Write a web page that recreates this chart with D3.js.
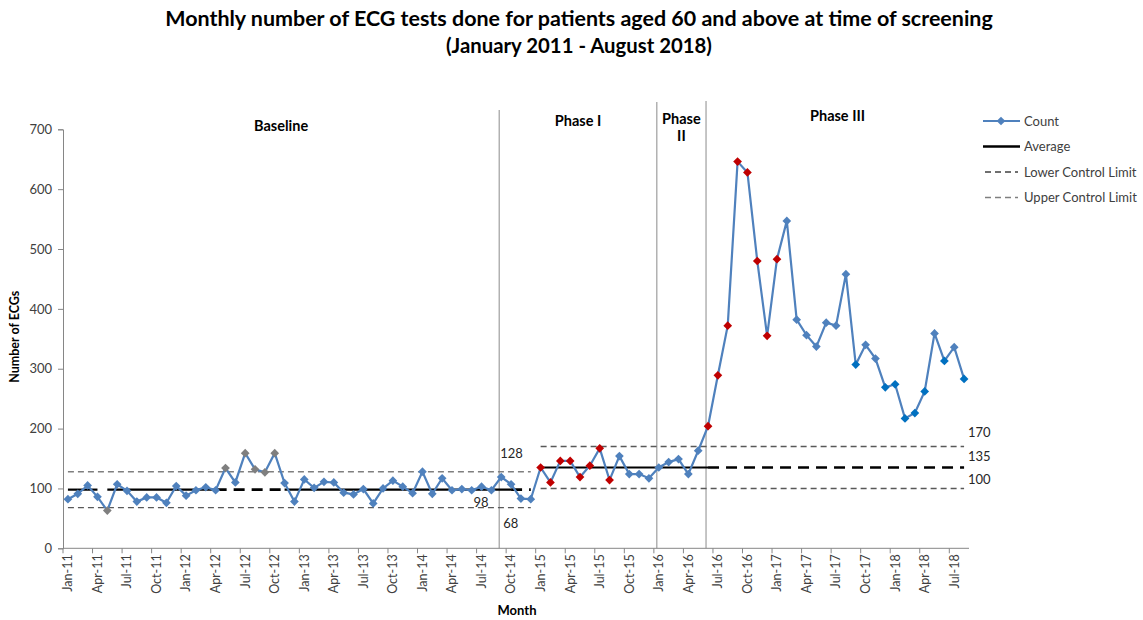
<!DOCTYPE html>
<html><head><meta charset="utf-8">
<script src="https://cdn.jsdelivr.net/npm/d3@7/dist/d3.min.js"></script>
<style>
body{margin:0;background:#fff;}
svg{display:block;font-family:Lato,"Open Sans",sans-serif;}
</style></head>
<body><svg id="c" width="1143" height="620"></svg>
<script>
// ---------- data ----------
const startMonth = new Date(2011, 0, 1);
const months = d3.timeMonths(startMonth, new Date(2018, 8, 1)).map(d3.timeFormat("%b-%y"));
const counts = [
  82, 91, 105, 86, 63, 107, 96, 78, 85, 85, 76, 104,      // 2011
  88, 97, 102, 97, 134, 110, 159, 132, 127, 159, 109, 78, // 2012
  115, 101, 111, 110, 93, 90, 99, 75, 100, 113, 103, 92,  // 2013
  128, 91, 117, 97, 99, 97, 103, 97, 119, 107, 83, 82,    // 2014
  135, 110, 146, 146, 119, 138, 167, 114, 154, 124, 124, 117, // 2015
  135, 144, 149, 124, 163, 204, 289, 372, 646, 628, 480, 355, // 2016
  483, 547, 382, 356, 337, 377, 372, 458, 307, 340, 317, 269, // 2017
  274, 217, 226, 262, 359, 313, 336, 283                      // 2018
];
const grayMonths = ["May-11", "May-12", "Jul-12", "Aug-12", "Sep-12", "Oct-12"];
const redMonths = ["Jan-15","Feb-15","Mar-15","Apr-15","May-15","Jun-15","Jul-15","Aug-15",
                   "Jun-16","Jul-16","Aug-16","Sep-16","Oct-16","Nov-16","Dec-16","Jan-17"];
const brightMonths = ["Sep-17","Dec-17","Jan-18","Feb-18","Mar-18","Apr-18","Jun-18","Aug-18"];
const tickMonths = months.filter((m, i) => i % 3 === 0);
const yTicks = [0, 100, 200, 300, 400, 500, 600, 700];

const baseAvg = 98, baseLCL = 68, baseUCL = 128;
const p1Avg = 135, p1LCL = 100, p1UCL = 170;
// average line pieces: [from, to, value, style]
const avgPieces = [
  ["Jan-11", "Apr-11", baseAvg, "solid"],
  ["May-11", "Apr-12", baseAvg, "solid"],
  ["Apr-12", "Nov-12", baseAvg, "dash"],
  ["Nov-12", "Oct-14", baseAvg, "solid"],
  ["Oct-14", "Dec-14", baseAvg, "dash"],
  ["Jan-15", "Jun-16", p1Avg, "solid"],
  ["Jun-16", "Aug-18", p1Avg, "dash"]
];
const limitPieces = [
  ["Jan-11", "Dec-14", baseUCL, "#7f7f7f"],
  ["Jan-11", "Dec-14", baseLCL, "#595959"],
  ["Jan-15", "Aug-18", p1UCL, "#595959"],
  ["Jan-15", "Aug-18", p1LCL, "#595959"]
];
const phaseBounds = [["Sep-14", 110], ["Jan-16", 102], ["Jun-16", 101]];
const phaseLabels = [
  {lines: ["Baseline"], y: 131},
  {lines: ["Phase I"], y: 126},
  {lines: ["Phase", "II"], y: 124},
  {lines: ["Phase III"], y: 121}
];
const legendItems = ["Count", "Average", "Lower Control Limit", "Upper Control Limit"];

// ---------- chart ----------
const svg = d3.select("#c");
const x = d3.scaleBand().domain(months).range([63, 969]);
const y = d3.scaleLinear().domain([0, 700]).range([548.3, 129.3]);
const cx = m => x(m) + x.bandwidth() / 2;

const blue = "#4F81BD", red = "#C00000", gray = "#7F7F7F", bright = "#0070C0";

// title
const titleLines = ["Monthly number of ECG tests done for patients aged 60 and above at time of screening",
                    "(January 2011 - August 2018)"];
const titleW = [828, 266];
titleLines.forEach((t, i) => {
  const el = svg.append("text").attr("x", 579).attr("y", 26 + i * 27)
    .attr("text-anchor", "middle").attr("font-weight", "bold").attr("font-size", 19)
    .attr("fill", "#000").text(t);
  const w = el.node().getComputedTextLength();
  el.attr("font-size", 19 * titleW[i] / w);
});

// phase boundary lines
phaseBounds.forEach(([m, top]) => {
  svg.append("line").attr("x1", cx(m) - 2).attr("x2", cx(m) - 2)
    .attr("y1", top).attr("y2", y(0)).attr("stroke", "#A6A6A6").attr("stroke-width", 1.3);
});

// phase labels
const bx = [63, cx("Sep-14") - 2, cx("Jan-16") - 2, cx("Jun-16") - 2, 969];
phaseLabels.forEach((p, i) => {
  const mid = (bx[i] + bx[i + 1]) / 2;
  p.lines.forEach((l, j) => {
    svg.append("text").attr("x", mid).attr("y", p.y + j * 17).attr("text-anchor", "middle")
      .attr("font-weight", "bold").attr("font-size", 14.5).attr("fill", "#000").text(l);
  });
});

// axes
const yAxis = svg.append("g").attr("transform", "translate(63,0)")
  .call(d3.axisLeft(y).tickValues(yTicks).tickSize(5).tickPadding(6));
yAxis.select(".domain").attr("stroke", "#868686");
yAxis.selectAll(".tick line").attr("stroke", "#868686");
yAxis.selectAll("text").attr("font-size", 13).attr("fill", "#404040")
  .attr("font-family", "Lato, sans-serif");

const xAxis = svg.append("g").attr("transform", `translate(0,${y(0)})`)
  .call(d3.axisBottom(x).tickValues(tickMonths).tickSize(0).tickPadding(0));
xAxis.select(".domain").attr("stroke", "#868686").attr("d", `M63,0H969`);
xAxis.selectAll(".tick text").attr("font-size", 12.5).attr("fill", "#404040")
  .attr("font-family", "Lato, sans-serif")
  .attr("text-anchor", "end").attr("dy", "0.35em")
  .attr("transform", "translate(0,6) rotate(-90)").attr("x", 0).attr("y", 0);
svg.append("g").selectAll("line").data(tickMonths).join("line")
  .attr("x1", d => x(d)).attr("x2", d => x(d))
  .attr("y1", y(0)).attr("y2", y(0) + 5).attr("stroke", "#868686");

// axis titles
svg.append("text").attr("transform", `translate(19,${(y(0) + y(700)) / 2 - 2}) rotate(-90)`)
  .attr("text-anchor", "middle").attr("font-weight", "bold").attr("font-size", 12.5).text("Number of ECGs");
svg.append("text").attr("x", 517).attr("y", 615).attr("text-anchor", "middle")
  .attr("font-weight", "bold").attr("font-size", 13).text("Month");

// control limits
limitPieces.forEach(([a, b, v, col]) => {
  svg.append("line").attr("x1", cx(a)).attr("x2", cx(b)).attr("y1", y(v)).attr("y2", y(v))
    .attr("stroke", col).attr("stroke-width", 1.4).attr("stroke-dasharray", "6,4");
});
avgPieces.forEach(([a, b, v, st]) => {
  svg.append("line").attr("x1", cx(a)).attr("x2", cx(b)).attr("y1", y(v)).attr("y2", y(v))
    .attr("stroke", "#000").attr("stroke-width", st === "solid" ? 2.2 : 2.6)
    .attr("stroke-dasharray", st === "solid" ? null : "11,7");
});

// limit labels
const valLabels = [
  [baseUCL, cx("Sep-14") - 1, 458], [baseAvg, cx("Jul-14") - 8, 507], [baseLCL, cx("Sep-14") + 2, 528],
  [p1UCL, 968, 437], [p1Avg, 968, 461], [p1LCL, 968, 484]
];
valLabels.forEach(([v, xx, yy]) => {
  svg.append("text").attr("x", xx).attr("y", yy).attr("font-size", 13)
    .attr("fill", "#262626").text(v);
});

// data line
const data = months.map((m, i) => ({m, v: counts[i]}));
svg.append("path").datum(data)
  .attr("d", d3.line().x(d => cx(d.m)).y(d => y(d.v)))
  .attr("fill", "none").attr("stroke", blue).attr("stroke-width", 2.2);

const colorOf = m => grayMonths.includes(m) ? gray : redMonths.includes(m) ? red :
  brightMonths.includes(m) ? bright : blue;
const sym = d3.symbol().type(d3.symbolSquare).size(38);
svg.append("g").selectAll("path").data(data).join("path")
  .attr("d", sym)
  .attr("transform", d => `translate(${cx(d.m)},${y(d.v)}) rotate(45)`)
  .attr("fill", d => colorOf(d.m));

// legend
const lg = svg.append("g");
legendItems.forEach((t, i) => {
  const yy = 121 + i * 25.5;
  const ln = lg.append("line").attr("x1", 983).attr("x2", 1020).attr("y1", yy).attr("y2", yy);
  if (i === 0) {
    ln.attr("stroke", blue).attr("stroke-width", 2.2);
    lg.append("path").attr("d", sym).attr("transform", `translate(1001,${yy}) rotate(45)`).attr("fill", blue);
  } else if (i === 1) {
    ln.attr("stroke", "#000").attr("stroke-width", 2.5);
  } else {
    ln.attr("stroke", i === 2 ? "#404040" : "#7f7f7f").attr("stroke-width", 1.4)
      .attr("stroke-dasharray", "6,4").attr("x1", 985).attr("x2", 1018);
  }
  lg.append("text").attr("x", 1024).attr("y", yy + 4.5).attr("font-size", 13)
    .attr("fill", "#404040").text(t);
});
</script></body></html>
